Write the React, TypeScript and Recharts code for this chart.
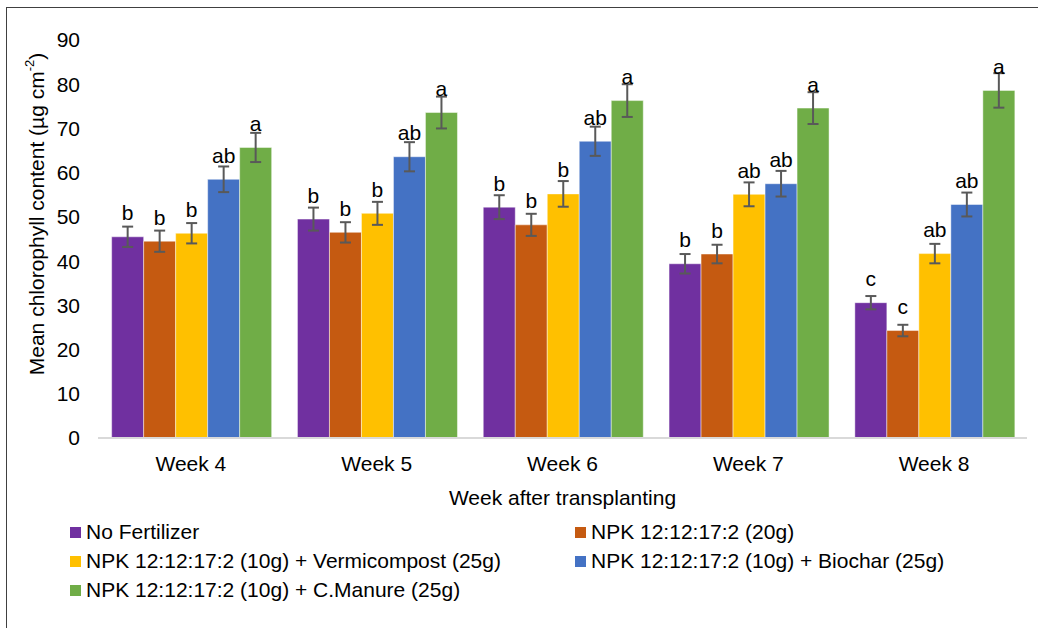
import { BarChart, Bar, XAxis, YAxis, ErrorBar, LabelList, Legend } from "recharts";

const FONT = '"Liberation Sans", Arial, sans-serif';

const weeks = ["Week 4", "Week 5", "Week 6", "Week 7", "Week 8"];
const yTicks = [0, 10, 20, 30, 40, 50, 60, 70, 80, 90];

const noFertilizer = [45.5, 49.5, 52.2, 39.4, 30.6];
const noFertilizerErr = [2.3, 2.6, 2.7, 2.2, 1.5];
const noFertilizerLetters = ["b", "b", "b", "b", "c"];

const npk20 = [44.5, 46.5, 48.2, 41.6, 24.3];
const npk20Err = [2.4, 2.3, 2.5, 2.1, 1.3];
const npk20Letters = ["b", "b", "b", "b", "c"];

const vermicompost = [46.3, 50.8, 55.2, 55.1, 41.7];
const vermicompostErr = [2.3, 2.6, 2.9, 2.7, 2.2];
const vermicompostLetters = ["b", "b", "b", "ab", "ab"];

const biochar = [58.5, 63.6, 67.1, 57.5, 52.8];
const biocharErr = [2.9, 3.3, 3.3, 2.9, 2.7];
const biocharLetters = ["ab", "ab", "ab", "ab", "ab"];

const manure = [65.7, 73.6, 76.3, 74.6, 78.6];
const manureErr = [3.3, 3.6, 3.7, 3.6, 3.9];
const manureLetters = ["a", "a", "a", "a", "a"];

const series = [
  { key: "s1", name: "No Fertilizer", color: "#7030A0", values: noFertilizer, err: noFertilizerErr, letters: noFertilizerLetters },
  { key: "s2", name: "NPK 12:12:17:2 (20g)", color: "#C55A11", values: npk20, err: npk20Err, letters: npk20Letters },
  { key: "s3", name: "NPK 12:12:17:2 (10g) + Vermicompost (25g)", color: "#FFC000", values: vermicompost, err: vermicompostErr, letters: vermicompostLetters },
  { key: "s4", name: "NPK 12:12:17:2 (10g) + Biochar (25g)", color: "#4472C4", values: biochar, err: biocharErr, letters: biocharLetters },
  { key: "s5", name: "NPK 12:12:17:2 (10g) + C.Manure (25g)", color: "#70AD47", values: manure, err: manureErr, letters: manureLetters },
];

const data = weeks.map((week, i) => {
  const row: Record<string, string | number> = { week };
  series.forEach((s) => {
    row[s.key] = s.values[i];
    row[s.key + "Err"] = s.err[i];
  });
  return row;
});

const renderLegend = () => (
  <div style={{ position: "relative", width: 1038, height: 100, fontFamily: FONT, fontSize: 21, color: "#000" }}>
    {series.map((s, i) => {
      const col = i % 2;
      const row = Math.floor(i / 2);
      return (
        <div
          key={s.key}
          style={{
            position: "absolute",
            left: col ? 575 : 70,
            top: 9.5 + row * 29.2,
            height: 29,
            display: "flex",
            alignItems: "center",
            whiteSpace: "nowrap",
          }}
        >
          <span style={{ display: "inline-block", width: 11, height: 11, background: s.color, marginRight: 5 }} />
          {s.name}
        </div>
      );
    })}
  </div>
);

export default function App() {
  return (
    <div style={{ position: "absolute", left: 0, top: 0, width: 1038, height: 628, background: "#fff", overflow: "hidden" }}>
      <div
        style={{
          position: "absolute",
          left: 6,
          top: 7,
          width: 1100,
          height: 700,
          borderTop: "1.5px solid #404040",
          borderLeft: "1.5px solid #404040",
        }}
      />
      <BarChart
        width={1038}
        height={628}
        data={data}
        margin={{ top: 40, right: 11, left: 0, bottom: 20 }}
        barCategoryGap="7.35%"
        barGap={0}
        style={{ position: "absolute", left: 0, top: 0 }}
      >
        <XAxis
          dataKey="week"
          height={70}
          tickLine={false}
          tickSize={0}
          tickMargin={18}
          stroke="#D9D9D9"
          strokeWidth={2}
          tick={{ fill: "#000", fontSize: 21, fontFamily: FONT }}
          label={({ viewBox }: any) => (
            <text
              x={viewBox.x + viewBox.width / 2}
              y={viewBox.y + 67}
              textAnchor="middle"
              fontSize={21}
              fontFamily={FONT}
              fill="#000"
            >
              Week after transplanting
            </text>
          )}
        />
        <YAxis
          width={98}
          domain={[0, 90]}
          ticks={yTicks}
          axisLine={false}
          tickLine={false}
          tickSize={0}
          tickMargin={18}
          tick={{ fill: "#000", fontSize: 21, fontFamily: FONT }}
          label={({ viewBox }: any) => {
            const cx = viewBox.x + 36;
            const cy = viewBox.y + viewBox.height / 2 - 25;
            return (
              <text
                x={cx}
                y={cy}
                transform={`rotate(-90, ${cx}, ${cy})`}
                textAnchor="middle"
                dominantBaseline="central"
                fontSize={21}
                fontFamily={FONT}
                fill="#000"
              >
                Mean chlorophyll content (µg cm
                <tspan fontSize={13} dy={-7}>-2</tspan>
                <tspan dy={7}>)</tspan>
              </text>
            );
          }}
        />
        <Legend
          verticalAlign="bottom"
          content={renderLegend}
          wrapperStyle={{ left: 0, top: 508, width: 1038, height: 100 }}
        />
        {series.map((s) => (
          <Bar
            key={s.key}
            dataKey={s.key}
            name={s.name}
            fill={s.color}
            stroke="#ffffff"
            strokeOpacity={0.45}
            strokeWidth={1}
            isAnimationActive={false}
          >
            <ErrorBar dataKey={s.key + "Err"} width={5.5} stroke="#595959" strokeWidth={2} />
            <LabelList
              dataKey={s.key}
              content={(p: any) => (
                <text
                  x={Number(p.x) + Number(p.width) / 2}
                  y={Number(p.y) - 16.5}
                  textAnchor="middle"
                  fontSize={21}
                  fontFamily={FONT}
                  fill="#000"
                >
                  {s.letters[p.index]}
                </text>
              )}
            />
          </Bar>
        ))}
      </BarChart>
    </div>
  );
}
